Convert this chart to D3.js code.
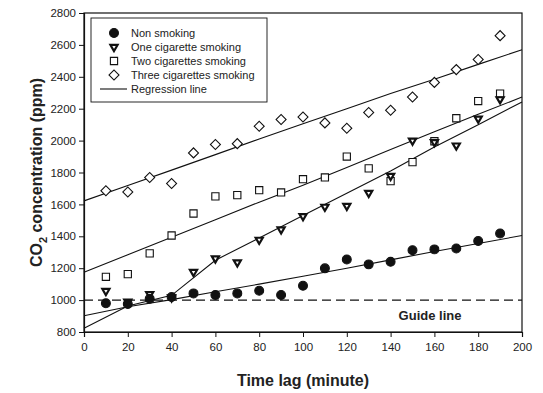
<!DOCTYPE html>
<html>
<head>
<meta charset="utf-8">
<script src="https://d3js.org/d3.v7.min.js"></script>
<style>
  body { margin: 0; background: #fff; }
  svg { font-family: Arial, "Liberation Sans", sans-serif; }
</style>
</head>
<body>
<div id="chart"></div>
<script>
var W = 543, H = 393;

// measured data
var times = [10, 20, 30, 40, 50, 60, 70, 80, 90, 100, 110, 120, 130, 140, 150, 160, 170, 180, 190];
var nonSmoking = [980, 975, 1008, 1019, 1042, 1032, 1042, 1059, 1032, 1090, 1199, 1255, 1224, 1240, 1313, 1318, 1324, 1370, 1418];
var oneCig = [1057, 990, 1038, 1017, 1176, 1261, 1236, 1378, 1443, 1526, 1585, 1591, 1672, 1779, 2000, 1990, 1969, 2138, 2259];
var twoCig = [1146, 1163, 1293, 1405, 1543, 1650, 1658, 1689, 1675, 1758, 1769, 1900, 1826, 1746, 1865, 1996, 2140, 2248, 2295];
var threeCig = [1685, 1678, 1769, 1731, 1923, 1975, 1981, 2090, 2132, 2148, 2111, 2077, 2176, 2190, 2273, 2365, 2445, 2509, 2658];

// regression lines (fitted values)
var regX = [0, 20, 40, 60, 80, 100, 120, 140, 160, 180, 200];
var regNon = [902, 958, 1003, 1052, 1100, 1150, 1200, 1252, 1305, 1355, 1405];
var regOne = [823, 963, 1030, 1250, 1390, 1530, 1670, 1810, 1960, 2100, 2242];
var regTwo = [1174, 1284, 1394, 1504, 1614, 1720, 1832, 1944, 2055, 2165, 2273];
var regThree = [1622, 1718, 1815, 1912, 2010, 2105, 2200, 2295, 2385, 2478, 2570];

var guideValue = 1000;
var xTicks = d3.range(0, 201, 20);
var yTicks = d3.range(800, 2801, 200);
var legendLabels = ["Non smoking", "One cigarette smoking", "Two cigarettes smoking", "Three cigarettes smoking", "Regression line"];

var margin = {left: 84, right: 21, top: 13, bottom: 61};
var ink = "#111";

var svg = d3.select("#chart").append("svg").attr("width", W).attr("height", H);

var x = d3.scaleLinear().domain([0, 200]).range([margin.left, W - margin.right]);
var y = d3.scaleLinear().domain([800, 2800]).range([H - margin.bottom, margin.top]);

// frame
svg.append("rect")
    .attr("x", x(0)).attr("y", y(2800))
    .attr("width", x(200) - x(0)).attr("height", y(800) - y(2800))
    .attr("fill", "none").attr("stroke", ink).attr("stroke-width", 1.2);

var xAxis = svg.append("g")
    .attr("transform", "translate(0," + y(800) + ")")
    .call(d3.axisBottom(x).tickValues(xTicks).tickFormat(d3.format("d")).tickSize(5).tickPadding(6));
var yAxis = svg.append("g")
    .attr("transform", "translate(" + x(0) + ",0)")
    .call(d3.axisLeft(y).tickValues(yTicks).tickFormat(d3.format("d")).tickSize(5).tickPadding(3));
[xAxis, yAxis].forEach(function(g) {
    g.select(".domain").attr("stroke", ink).attr("stroke-width", 1.2);
    g.selectAll(".tick line").attr("stroke", ink);
    g.selectAll("text").attr("font-size", "11.5px").attr("fill", "#222")
        .attr("font-family", "Arial, 'Liberation Sans', sans-serif");
});

// guide line
svg.append("line")
    .attr("x1", x(0)).attr("x2", x(200))
    .attr("y1", y(guideValue)).attr("y2", y(guideValue))
    .attr("stroke", ink).attr("stroke-width", 1.4)
    .attr("stroke-dasharray", "9,5");
svg.append("text")
    .attr("x", x(158)).attr("y", y(guideValue) + 20)
    .attr("text-anchor", "middle")
    .attr("font-size", "13px").attr("font-weight", "bold").attr("fill", "#222")
    .text("Guide line");

// regression lines
var line = d3.line()
    .x(function(d, i) { return x(regX[i]); })
    .y(function(d) { return y(d); });
[regNon, regOne, regTwo, regThree].forEach(function(r) {
    svg.append("path").datum(r)
        .attr("d", line)
        .attr("fill", "none").attr("stroke", ink).attr("stroke-width", 1.1);
});

// markers
var sym = {
    circle: d3.symbol().type(d3.symbolCircle).size(62),
    square: d3.symbol().type(d3.symbolSquare).size(52),
    diamond: d3.symbol().type(d3.symbolSquare).size(50),
    tri: d3.symbol().type(d3.symbolTriangle).size(22)
};
var rot = { circle: "", square: "", diamond: " rotate(45)", tri: " rotate(180)" };

function styleMarker(sel, kind) {
    sel.attr("d", sym[kind])
        .attr("fill", kind === "circle" ? ink : "#fff")
        .attr("stroke", ink)
        .attr("stroke-width", kind === "tri" ? 2.2 : 1.1);
}

function drawSeries(vals, kind) {
    svg.append("g").selectAll("path")
        .data(vals)
        .enter()
        .append("path")
        .call(styleMarker, kind)
        .attr("transform", function(d, i) {
            return "translate(" + x(times[i]) + "," + y(d) + ")" + rot[kind];
        });
}
drawSeries(threeCig, "diamond");
drawSeries(twoCig, "square");
drawSeries(oneCig, "tri");
drawSeries(nonSmoking, "circle");

// legend
var lg = svg.append("g");
lg.append("rect")
    .attr("x", 91).attr("y", 18).attr("width", 176).attr("height", 84)
    .attr("fill", "#fff").attr("stroke", ink).attr("stroke-width", 0.9);
var kinds = ["circle", "tri", "square", "diamond"];
legendLabels.forEach(function(lab, i) {
    var ly = 33 + i * 14;
    if (i < 4) {
        lg.append("path")
            .call(styleMarker, kinds[i])
            .attr("transform", "translate(114," + ly + ")" + rot[kinds[i]]);
    } else {
        lg.append("line")
            .attr("x1", 100).attr("x2", 127).attr("y1", ly).attr("y2", ly)
            .attr("stroke", ink).attr("stroke-width", 1.1);
    }
    lg.append("text")
        .attr("x", 131).attr("y", ly + 4)
        .attr("font-size", "11px").attr("fill", "#222")
        .text(lab);
});

// axis titles
svg.append("text")
    .attr("x", (x(0) + x(200)) / 2).attr("y", 386)
    .attr("text-anchor", "middle")
    .attr("font-size", "16px").attr("font-weight", "bold").attr("fill", "#222")
    .text("Time lag (minute)");

var yt = svg.append("text")
    .attr("transform", "translate(42," + ((y(800) + y(2800)) / 2) + ") rotate(-90)")
    .attr("text-anchor", "middle")
    .attr("font-size", "16px").attr("font-weight", "bold").attr("fill", "#222");
yt.append("tspan").text("CO");
yt.append("tspan").attr("font-size", "11px").attr("dy", 5).text("2");
yt.append("tspan").attr("dy", -5).text(" concentration (ppm)");
</script>
</body>
</html>
